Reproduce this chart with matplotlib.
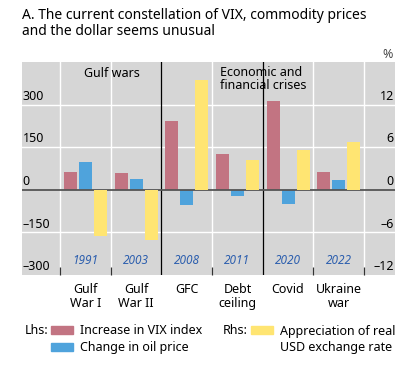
import numpy as np
import matplotlib.pyplot as plt
from matplotlib.patches import Rectangle

plt.rcParams['font.family'] = ['Noto Sans', 'DejaVu Sans']

events = ['Gulf\nWar I', 'Gulf\nWar II', 'GFC', 'Debt\nceiling', 'Covid', 'Ukraine\nwar']
years = ['1991', '2003', '2008', '2011', '2020', '2022']
vix = [64, 60, 242, 126, 314, 64]          # lhs
oil = [98, 38, -53, -21, -49, 35]          # lhs
usd = [-6.5, -7.0, 15.4, 4.2, 5.6, 6.7]    # rhs, %

pink = '#c27482'
blue = '#4fa3dc'
yellow = '#ffe572'
grey = '#d6d6d6'

fig = plt.figure(figsize=(4.08, 3.65), dpi=100)
ax = fig.add_axes([22/408, 1-275/365, 373/408, 213/365])
ax2 = ax.twinx()

x = np.arange(len(events))
w = 0.256
off = 0.296

ax.set_facecolor(grey)
ax.set_xlim(-1.25, 6.11)
ax.set_ylim(-300, 450)
ax2.set_ylim(-12, 18)

# grid lines
for y in [-150, 150, 300]:
    ax.axhline(y, color='white', lw=1, zorder=0.5)
for b in [-0.5, 0.5, 2.5, 4.5, 5.5]:
    ax.axvline(b, color='white', lw=1, zorder=0.5)
for b in [1.5, 3.5]:
    ax.axvline(b, color='black', lw=0.9, zorder=3)
ax.axhline(0, color='#555555', lw=1.3, zorder=4)

ax.bar(x - off, vix, w, color=pink, zorder=2)
ax.bar(x, oil, w, color=blue, zorder=2)
ax2.bar(x + off, usd, w, color=yellow, zorder=2)

for s in ax.spines.values():
    s.set_visible(False)
for s in ax2.spines.values():
    s.set_visible(False)

# y labels sit inside the panel, above the grid lines
ax.set_yticks([])
ax2.set_yticks([])
for v in [-300, -150, 0, 150, 300]:
    ax.text(-1.24, v + 6, '{}'.format(v).replace('-', '\u2013'), ha='left', va='bottom',
            fontsize=9, zorder=5)
for v in [-12, -6, 0, 6, 12]:
    ax2.text(6.09, v + 0.24, '{}'.format(v).replace('-', '\u2013'), ha='right', va='bottom',
             fontsize=9, zorder=5)

ax.set_xticks(x)
ax.set_xticklabels(events, fontsize=9, linespacing=1.05)
ax.tick_params(axis='x', which='major', length=0, pad=6)
ax.set_xticks([-0.5, 0.5, 2.5, 4.5, 5.5], minor=True)
ax.tick_params(axis='x', which='minor', direction='in', length=6, width=0.9, color='#333333')

for i, yr in enumerate(years):
    ax.text(x[i], -248, yr, ha='center', va='center', fontsize=8.5, style='italic',
            color='#2d5fae', zorder=5)

ax.text(0.52, 411, 'Gulf wars', ha='center', va='center', fontsize=9, zorder=5)
ax.text(2.66, 390, 'Economic and\nfinancial crises', ha='left', va='center', fontsize=9,
        linespacing=1.0, zorder=5)

fig.text(393/408, 1-54/365, '%', ha='right', va='center', fontsize=9, color='#444444')

fig.text(22/408, 1-8/365, 'A. The current constellation of VIX, commodity prices\nand the dollar seems unusual',
         ha='left', va='top', fontsize=10, linespacing=1.1)

# legend
def patch(px, py, c):
    fig.patches.append(Rectangle((px/408, 1-(py+4)/365), 22/408, 8/365,
                                 transform=fig.transFigure, color=c))

fig.text(25/408, 1-331/365, 'Lhs:', ha='left', va='center', fontsize=9)
patch(51, 330, pink)
fig.text(80/408, 1-331/365, 'Increase in VIX index', ha='left', va='center', fontsize=9)
patch(51, 347, blue)
fig.text(80/408, 1-348/365, 'Change in oil price', ha='left', va='center', fontsize=9)
fig.text(223/408, 1-331/365, 'Rhs:', ha='left', va='center', fontsize=9)
patch(251, 330, yellow)
fig.text(280/408, 1-331/365, 'Appreciation of real', ha='left', va='center', fontsize=9)
fig.text(280/408, 1-348/365, 'USD exchange rate', ha='left', va='center', fontsize=9)

plt.savefig('out.png', dpi=100)
